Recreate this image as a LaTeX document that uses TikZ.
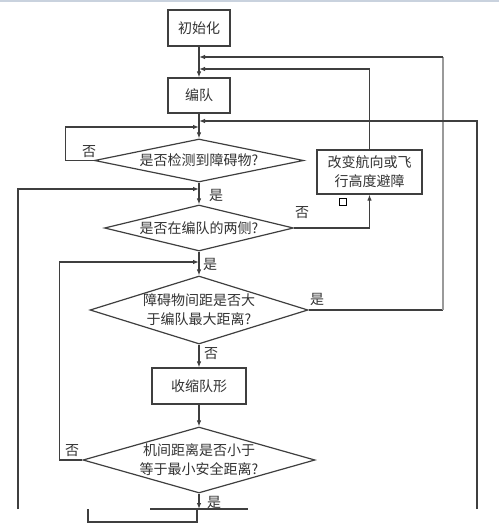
\documentclass[tikz,border=0pt]{standalone}
\usepackage{fontspec}
\setmainfont{Noto Sans CJK SC}
\usetikzlibrary{shapes.geometric,arrows.meta}
\definecolor{lc}{HTML}{3F3F3F}
\definecolor{lg}{HTML}{9A9A9A}
\definecolor{tc}{HTML}{333333}
\definecolor{topc}{HTML}{C9D2DE}
\begin{document}
\begin{tikzpicture}[x=1pt,y=-1pt,
  txt/.style={font=\fontsize{14}{19}\selectfont, text=tc, align=center},
  proc/.style={draw=lc, line width=1.2pt, minimum width=62, minimum height=36, inner sep=0, txt},
  dia/.style={draw=lc, shape=diamond, inner sep=0, line width=1.2pt},
  conn/.style={draw=lc, line width=1.1pt},
  arr/.style={conn, -{Latex[length=6pt,width=4.5pt]}},
  lbl/.style={txt, inner sep=0}]
\useasboundingbox (0,0) rectangle (499,529);
\fill[white] (0,0) rectangle (499,529);
\fill[topc] (0,0) rectangle (499,2);

% nodes
\node[proc] (init) at (199,28) {初始化};
\node[proc, minimum height=35] (form) at (199,95.5) {编队};
\node[dia, minimum width=209, minimum height=43] (d1) at (199,160.5) {};
\node[txt] at (d1) {是否检测到障碍物?};
\node[dia, minimum width=189, minimum height=46] (d2) at (199,228) {};
\node[txt] at (d2) {是否在编队的两侧?};
\node[proc, minimum width=105, minimum height=44] (chg) at (369.5,172) {改变航向或飞\\行高度避障};
\node[dia, minimum width=218, minimum height=68] (d3) at (199,310) {};
\node[txt] at (d3) {障碍物间距是否大\\于编队最大距离?};
\node[proc, minimum width=94, minimum height=36] (shr) at (199,386) {收缩队形};
\node[dia, minimum width=232, minimum height=66] (d4) at (199,460) {};
\node[txt] at (d4) {机间距离是否小于\\等于最小安全距离?};
\node[draw=black, line width=0.9pt, minimum width=7, minimum height=7, inner sep=0] (sq) at (343,201.5) {};

% junction coordinates
\coordinate (j57) at (199,57);
\coordinate (j69) at (199,69);
\coordinate (j121) at (199,121);
\coordinate (j127) at (199,127);
\coordinate (j189) at (199,189);
\coordinate (j262) at (199,262);
\coordinate (bot) at (199,509);
\coordinate (lbot) at (18,509);
\coordinate (rbot) at (477,509);
\coordinate (r3) at (443,310);
\coordinate (r3t) at (443,57);
\coordinate (fa) at (150,509);
\coordinate (fb) at (248,509);
\coordinate (ga) at (88,509);
\coordinate (gb) at (88,522);
\coordinate (gc) at (197,522);
\coordinate (gd) at (197,509);

% main flow
\draw[arr] (init.south) -- (form.north);
\draw[arr] (form.south) -- (d1.north);
\draw[arr] (d1.south) -- (d2.north);
\draw[arr] (d2.south) -- (d3.north);
\draw[arr] (d3.south) -- (shr.north);
\draw[arr] (shr.south) -- (d4.north);
\draw[arr] (d4.south) -- (bot);

% loops
\draw[arr] (d1.west) -- ++(-28,0) |- (j127);
\draw[arr] (d2.east) -| (chg.south);
\draw[arr] (chg.north) |- (j69);
\draw[conn] (d3.east) -- (r3);
\draw[conn, draw=lg] (r3) -- (r3t);
\draw[arr] (r3t) -- (j57);
\draw[arr] (d4.west) -- ++(-23,0) |- (j262);
\draw[arr] (lbot) |- (j189);
\draw[arr] (rbot) |- (j121);

% bottom fragments
\draw[conn] (fa) -- (fb);
\draw[conn] (ga) -- (gb) -- (gc) -- (gd);

% labels
\node[lbl] at (89,152) {否};
\node[lbl] at (216,195) {是};
\node[lbl] at (302,213) {否};
\node[lbl] at (210,264) {是};
\node[lbl] at (317,299) {是};
\node[lbl] at (211,354) {否};
\node[lbl] at (72,451) {否};
\node[lbl] at (214,502) {是};
\end{tikzpicture}
\end{document}
